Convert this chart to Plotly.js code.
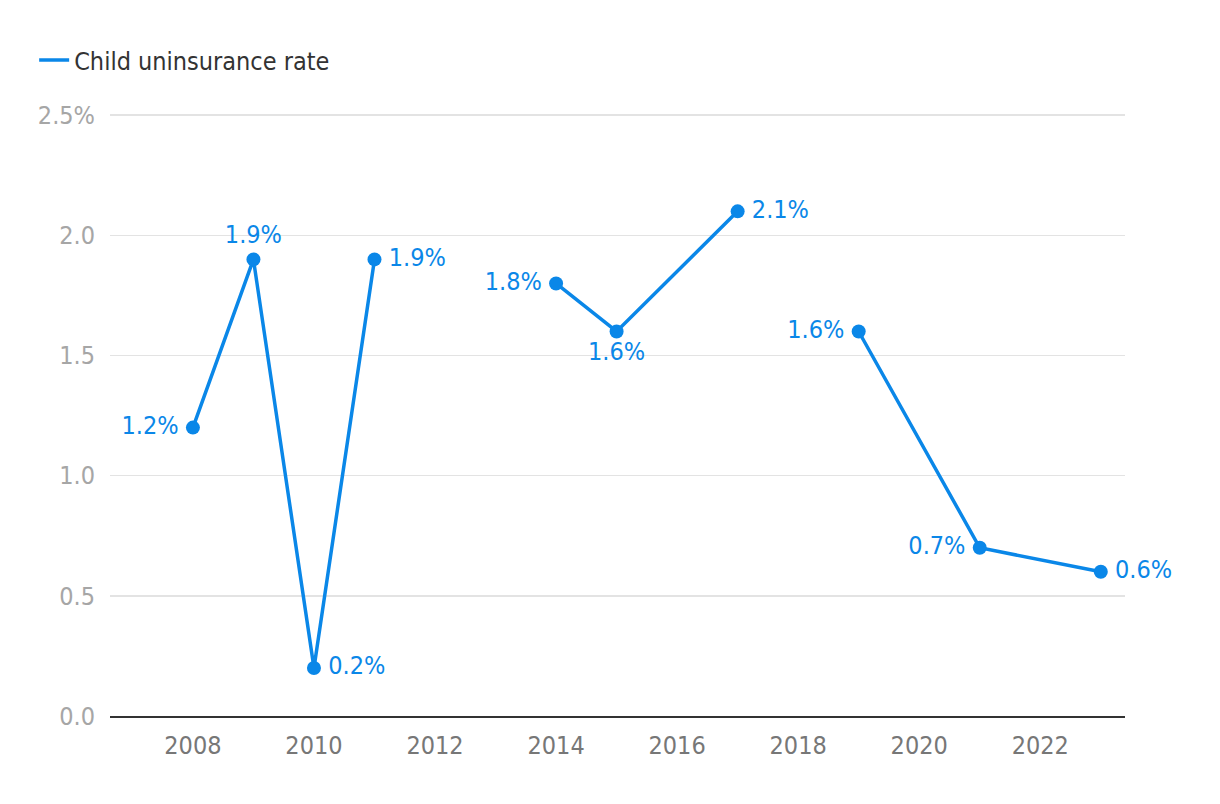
<!DOCTYPE html>
<html>
<head>
<meta charset="utf-8">
<script src="https://cdn.plot.ly/plotly-3.0.1.min.js"></script>
<style>html,body{margin:0;padding:0;background:#fff;}#chart{width:1220px;height:804px;}</style>
</head>
<body>
<div id="chart"></div>
<script>
const seriesName = "Child uninsurance rate";
const years = [2008, 2009, 2010, 2011, 2012, 2014, 2015, 2017, 2018, 2019, 2021, 2023];
const rates = [1.2, 1.9, 0.2, 1.9, null, 1.8, 1.6, 2.1, null, 1.6, 0.7, 0.6];
const labelPositions = ["middle left", "top center", "middle right", "middle right", "middle right",
  "middle left", "bottom center", "middle right", "middle right", "middle left", "middle left", "middle right"];
const yTickVals = [0, 0.5, 1.0, 1.5, 2.0, 2.5];
const yTickText = ["0.0", "0.5", "1.0", "1.5", "2.0", "2.5%"];
const xTickVals = [2008, 2010, 2012, 2014, 2016, 2018, 2020, 2022];

const FONT = '"DejaVu Sans Condensed", "Liberation Sans Narrow", "Roboto", sans-serif';
const BLUE = '#0a87e8';
const FS = 25;

function labelFor(v, pos) {
  if (v === null) return '';
  const s = v.toFixed(1) + '%';
  if (pos === 'middle right') return '\u2009' + s;
  if (pos === 'middle left') return s + '\u2009';
  return s;
}

const trace = {
  x: years, y: rates, type: 'scatter', mode: 'lines+markers+text',
  name: seriesName, connectgaps: false, showlegend: false,
  line: {color: BLUE, width: 3.5},
  marker: {color: BLUE, size: 14},
  text: rates.map((v, i) => labelFor(v, labelPositions[i])),
  textposition: labelPositions,
  textfont: {family: FONT, size: FS, color: BLUE},
  cliponaxis: false, hoverinfo: 'skip'
};

const legendTrace = {
  x: [null], y: [null], type: 'scatter', mode: 'lines', name: seriesName,
  line: {color: BLUE, width: 3.5}, showlegend: true, hoverinfo: 'skip'
};

const layout = {
  width: 1220, height: 804,
  margin: {l: 110, r: 95, t: 114, b: 88},
  paper_bgcolor: '#fff', plot_bgcolor: '#fff',
  font: {family: FONT, size: FS, color: '#333'},
  showlegend: true,
  legend: {xref: 'container', yref: 'container', x: 0.028, y: 0.925, xanchor: 'left', yanchor: 'middle',
    orientation: 'h', font: {family: FONT, size: FS, color: '#333'}, itemwidth: 30},
  xaxis: {range: [2006.63, 2023.4], tickvals: xTickVals, showgrid: false, zeroline: false,
    showline: true, linecolor: '#333', linewidth: 2,
    ticks: 'outside', ticklen: 6, tickcolor: 'rgba(0,0,0,0)',
    tickfont: {family: FONT, size: FS, color: '#777'}},
  yaxis: {range: [0, 2.505], tickvals: yTickVals, ticktext: yTickText, showgrid: true,
    gridcolor: '#e3e3e3', gridwidth: 1.5, zeroline: false, showline: false,
    ticks: 'outside', ticklen: 9, tickcolor: 'rgba(0,0,0,0)',
    tickfont: {family: FONT, size: FS, color: '#a6a6a6'}}
};

Plotly.newPlot('chart', [trace, legendTrace], layout, {displayModeBar: false, staticPlot: true});
</script>
</body>
</html>
